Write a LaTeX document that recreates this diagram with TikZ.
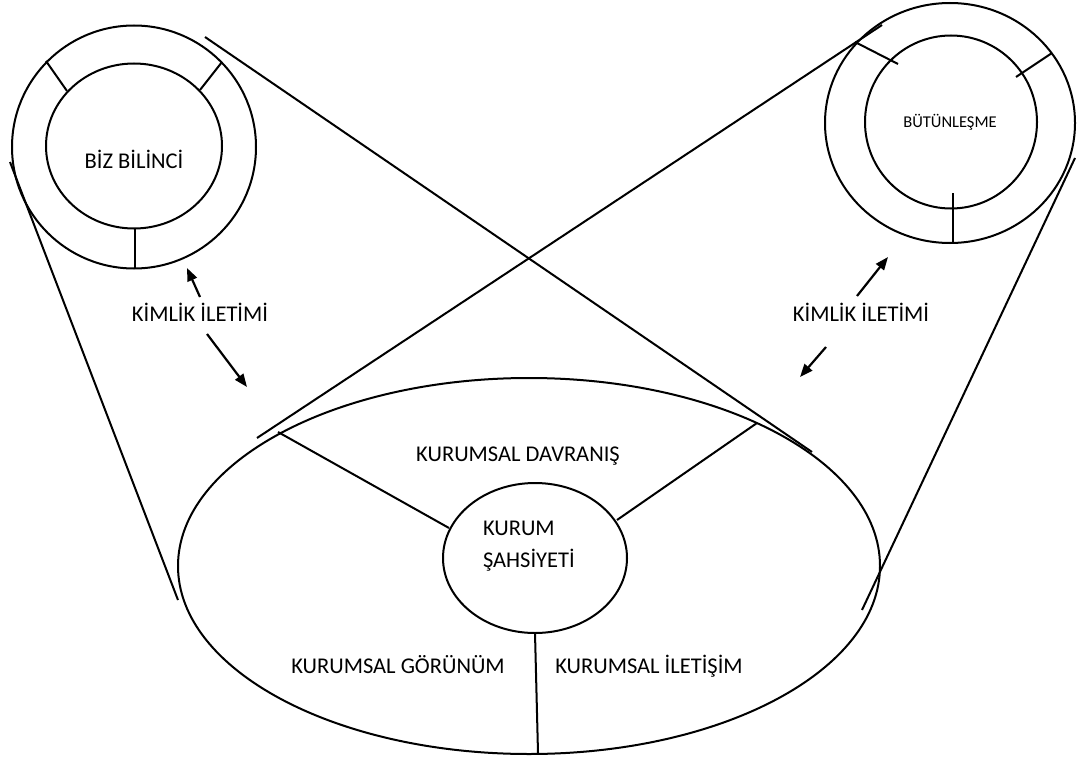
\documentclass[tikz,border=0pt]{standalone}
\usepackage{fontspec}
\setmainfont{Carlito}
\usetikzlibrary{arrows.meta,shapes.geometric}
\begin{document}
\begin{tikzpicture}[x=1pt,y=-1pt,
  line width=2pt,
  ring/.style={draw,ellipse,inner sep=0pt},
  lbl/.style={inner sep=0pt,anchor=base,font=\fontsize{22.5}{27}\selectfont},
  arr/.style={-{Triangle[length=13pt,width=10pt]},line width=2.2pt}]
\useasboundingbox (0,0) rectangle (1079,760);

% left pair of rings
\node[ring,minimum width=244pt,minimum height=243pt] (lout) at (134,147) {};
\node[ring,minimum width=176pt,minimum height=165pt] (lin) at (134,146) {};
\node[lbl] (biz) at (134,168) {BİZ BİLİNCİ};
\draw (46,61) coordinate (l1a) -- (67,91) coordinate (l1b);
\draw (222,62) coordinate (l2a) -- (200,90) coordinate (l2b);
\draw (135,228) coordinate (l3a) -- (135,268) coordinate (l3b);

% right pair of rings
\node[ring,minimum width=250pt,minimum height=240pt] (rout) at (950,123) {};
\node[ring,minimum width=172pt,minimum height=173pt] (rin) at (951,122) {};
\node[lbl,font=\fontsize{16.5}{20}\selectfont] (btn) at (950,127) {BÜTÜNLEŞME};
\draw (855,42) coordinate (r1a) -- (898,64) coordinate (r1b);
\draw (1052,53) coordinate (r2a) -- (1016,77) coordinate (r2b);
\draw (953,193) coordinate (r3a) -- (953,243) coordinate (r3b);

% large ellipse with its core
\node[ring,minimum width=702pt,minimum height=376pt] (big) at (529,566) {};
\node[ring,minimum width=184pt,minimum height=150pt] (core) at (535,558) {};
\node[lbl,anchor=base west] (kurum1) at (482,535) {KURUM};
\node[lbl,anchor=base west] (kurum2) at (482,567) {ŞAHSİYETİ};
\node[lbl] (davr) at (518,461) {KURUMSAL DAVRANIŞ};
\node[lbl] (gor) at (398,673) {KURUMSAL GÖRÜNÜM};
\node[lbl] (ilet) at (649,673) {KURUMSAL İLETİŞİM};
\coordinate (s1a) at (278,432);
\coordinate (s1b) at (449,528);
\coordinate (s2a) at (757,423);
\coordinate (s2b) at (617,520);
\coordinate (s3a) at (535,633);
\coordinate (s3b) at (538,753);
\draw (s1a) -- (s1b);
\draw (s2a) -- (s2b);
\draw (s3a) -- (s3b);

% connecting lines
\coordinate (t1a) at (10,162);
\coordinate (t1b) at (178,600);
\coordinate (t2a) at (205,37);
\coordinate (t2b) at (812,452);
\coordinate (t3a) at (257,438);
\coordinate (t3b) at (882,25);
\coordinate (t4a) at (1075,158);
\coordinate (t4b) at (862,610);
\draw (t1a) -- (t1b);
\draw (t2a) -- (t2b);
\draw (t3a) -- (t3b);
\draw (t4a) -- (t4b);

% identity transfer labels and arrows
\node[lbl] (kl) at (200,321) {KİMLİK İLETİMİ};
\node[lbl] (kr) at (861,321) {KİMLİK İLETİMİ};
\coordinate (al1) at (187,268);
\coordinate (al2) at (247,387);
\coordinate (ar1) at (888,257);
\coordinate (ar2) at (800,377);
\draw[arr] (200,297) coordinate (al1t) -- (al1);
\draw[arr] (207,334) coordinate (al2t) -- (al2);
\draw[arr] (857,296) coordinate (ar1t) -- (ar1);
\draw[arr] (826,347) coordinate (ar2t) -- (ar2);
\end{tikzpicture}
\end{document}
